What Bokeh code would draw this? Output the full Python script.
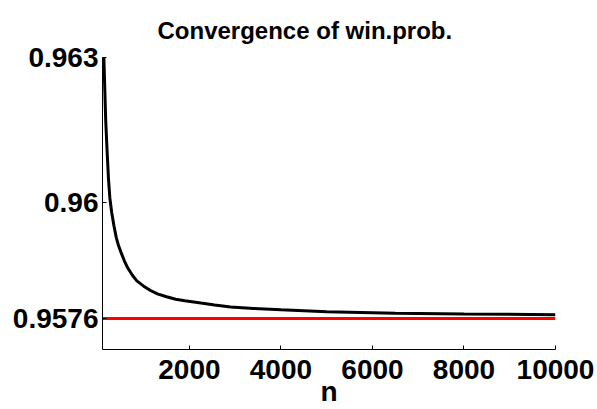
from bokeh.plotting import figure
from bokeh.models import FixedTicker, CustomJSTickFormatter
from bokeh.embed import file_html
from bokeh.resources import INLINE

# ---- data ----
n_values = [100, 130, 170, 200, 230, 260, 300, 350, 400, 450, 500, 575, 650,
            750, 850, 1000, 1150, 1300, 1500, 1700, 1900, 2250, 2550, 2900,
            3400, 4000, 5000, 6500, 8000, 10000]
win_prob = [0.96360, 0.96300, 0.96170, 0.96108, 0.96050, 0.96010, 0.95980,
            0.95952, 0.95928, 0.95911, 0.95898, 0.95880, 0.95865, 0.95850,
            0.95838, 0.95827, 0.95818, 0.95811, 0.95805, 0.95800, 0.95797,
            0.95792, 0.95788, 0.95784, 0.95781, 0.95778, 0.95774, 0.95771,
            0.957695, 0.95768]
limit_value = 0.9576
limit_n = [100, 10000]
limit_line = [limit_value, limit_value]

x_ticks = [2000, 4000, 6000, 8000, 10000]
y_ticks = [0.9576, 0.96, 0.963]
x_label = "n"
title_text = "Convergence of win.prob."

FONT = "Liberation Sans"

p = figure(width=597, height=409,
           x_range=(100, 10000), y_range=(0.95696, 0.963),
           output_backend="svg", toolbar_location=None,
           min_border_left=102, min_border_right=42,
           min_border_top=55, min_border_bottom=60)

p.title.text = title_text
p.title.text_font = FONT
p.title.text_font_size = "24px"
p.title.text_font_style = "bold"
p.title.text_color = "black"
p.title.align = "left"
p.title.offset = 55
p.title.standoff = 28

p.grid.visible = False
p.outline_line_color = None
p.background_fill_color = "white"
p.border_fill_color = "white"

p.line(limit_n, limit_line, line_color="#ff0000", line_width=3)
p.line(n_values, win_prob, line_color="black", line_width=3)

xa = p.xaxis[0]
ya = p.yaxis[0]
xa.ticker = FixedTicker(ticks=x_ticks)
ya.ticker = FixedTicker(ticks=y_ticks)
ya.formatter = CustomJSTickFormatter(code="return tick.toString();")
for ax in (xa, ya):
    ax.major_label_text_font = FONT
    ax.major_label_text_font_size = "28px"
    ax.major_label_text_font_style = "bold"
    ax.major_label_text_color = "black"
    ax.axis_line_color = "black"
    ax.axis_line_width = 1
    ax.major_tick_line_color = "black"
    ax.major_tick_in = 4
    ax.major_tick_out = 0
    ax.minor_tick_line_color = None
ya.major_label_standoff = 4
xa.major_label_standoff = 10
xa.axis_label = x_label
xa.axis_label_text_font = FONT
xa.axis_label_text_font_size = "28px"
xa.axis_label_text_font_style = "bold"
xa.axis_label_text_color = "black"
xa.axis_label_text_line_height = 0.6
xa.axis_label_standoff = -6

open("out.html", "w").write(file_html(p, INLINE))
